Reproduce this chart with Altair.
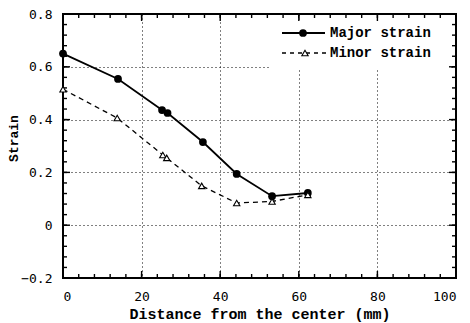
import altair as alt
import pandas as pd

# ---- data ----
distance_major = [0, 14, 25.2, 26.6, 35.6, 44.2, 53.2, 62.3]
major_strain = [0.65, 0.554, 0.436, 0.425, 0.315, 0.194, 0.11, 0.122]
distance_minor = [0, 13.8, 25.4, 26.4, 35.3, 44.2, 53.2, 62.3]
minor_strain = [0.515, 0.406, 0.266, 0.255, 0.149, 0.084, 0.09, 0.115]
series_names = ["Major strain", "Minor strain"]

x_major_ticks = [0, 20, 40, 60, 80, 100]
x_minor_ticks = list(range(0, 101, 4))
y_major_ticks = [-0.2, 0, 0.2, 0.4, 0.6, 0.8]
y_minor_ticks = [round(-0.2 + 0.04 * i, 2) for i in range(26)]

x_title = "Distance from the center (mm)"
y_title = "Strain"

W, H = 393, 264
X_MIN, X_MAX = 0, 100
Y_MIN, Y_MAX = -0.2, 0.8
TITLE_FONT = "Liberation Mono"
LABEL_FONT = "DejaVu Sans Mono"

df_major = pd.DataFrame({"d": distance_major, "s": major_strain})
df_minor = pd.DataFrame({"d": distance_minor, "s": minor_strain})

xs = alt.Scale(domain=[X_MIN, X_MAX], nice=False, zero=False)
ys = alt.Scale(domain=[Y_MIN, Y_MAX], nice=False, zero=False)

x_axis = alt.Axis(
    values=x_major_ticks, ticks=False, domain=False, grid=True,
    gridColor="black", gridDash=[1, 3], gridWidth=1,
    labelFont=LABEL_FONT, labelFontSize=13, labelColor="black", labelPadding=12,
    labelExpr="format(datum.value, 'd')",
    title=x_title, titleFont=TITLE_FONT, titleFontWeight="bold", titleFontSize=15,
    titleColor="black", titleY=35, titleBaseline="middle",
)
y_axis = alt.Axis(
    values=y_major_ticks, ticks=False, domain=False, grid=True,
    gridColor="black", gridDash=[1, 3], gridWidth=1,
    labelFont=LABEL_FONT, labelFontSize=13, labelColor="black", labelPadding=11,
    labelExpr="datum.value == 0 ? '0' : format(datum.value, '.1f')",
    title=y_title, titleFont=TITLE_FONT, titleFontWeight="bold", titleFontSize=13,
    titleColor="black", titleX=-50, titleY=124, titleAngle=270,
    titleAlign="center", titleBaseline="middle",
)


def X(field):
    return alt.X(field, scale=xs, axis=x_axis)


def Y(field):
    return alt.Y(field, scale=ys, axis=y_axis)


major_line = alt.Chart(df_major).mark_line(color="black", strokeWidth=1.8).encode(
    x=X("d:Q"), y=Y("s:Q"))
major_pts = alt.Chart(df_major).mark_point(
    shape="circle", filled=True, color="black", size=60, opacity=1
).encode(x=X("d:Q"), y=Y("s:Q"))
minor_line = alt.Chart(df_minor).mark_line(
    color="black", strokeWidth=1.3, strokeDash=[5, 4]
).encode(x=X("d:Q"), y=Y("s:Q"))
minor_pts = alt.Chart(df_minor).mark_point(
    shape="triangle-up", filled=False, fill="white", fillOpacity=1,
    stroke="black", strokeWidth=1.1, size=40, opacity=1
).encode(x=X("d:Q"), y=Y("s:Q"))

# ---- inside tick marks: short rules from each frame edge inward ----
px_x = (X_MAX - X_MIN) / W   # data units per pixel
px_y = (Y_MAX - Y_MIN) / H


def tick_rows(values, length):
    rows = []
    for v in values:
        rows.append({"d": v, "s": Y_MIN, "d2": v, "s2": Y_MIN + length * px_y})
        rows.append({"d": v, "s": Y_MAX, "d2": v, "s2": Y_MAX - length * px_y})
    return rows


def ytick_rows(values, length):
    rows = []
    for v in values:
        rows.append({"d": X_MIN, "s": v, "d2": X_MIN + length * px_x, "s2": v})
        rows.append({"d": X_MAX, "s": v, "d2": X_MAX - length * px_x, "s2": v})
    return rows


tick_df = pd.DataFrame(
    tick_rows(x_minor_ticks, 4) + tick_rows(x_major_ticks, 7)
    + ytick_rows(y_minor_ticks, 4) + ytick_rows(y_major_ticks, 7)
)
ticks = alt.Chart(tick_df).mark_rule(color="black", strokeWidth=1.4, opacity=1).encode(
    x=X("d:Q"), y=Y("s:Q"), x2="d2:Q", y2="s2:Q"
)

# ---- manual legend ----
one = pd.DataFrame({"k": [0]})
leg_bg = alt.Chart(one).mark_rect(fill="white").encode(
    x=alt.value(207), x2=alt.value(386), y=alt.value(7), y2=alt.value(55)
)
leg_major_line = alt.Chart(one).mark_rule(color="black", strokeWidth=1.8).encode(
    x=alt.value(219), x2=alt.value(262), y=alt.value(19)
)
leg_major_pt = alt.Chart(one).mark_point(
    shape="circle", filled=True, color="black", size=60, opacity=1
).encode(x=alt.value(240), y=alt.value(19))
leg_minor_line = alt.Chart(one).mark_rule(
    color="black", strokeWidth=1.3, strokeDash=[4, 4]
).encode(x=alt.value(219), x2=alt.value(263), y=alt.value(39))
leg_minor_pt = alt.Chart(one).mark_point(
    shape="triangle-up", filled=False, fill="white", fillOpacity=1,
    stroke="black", strokeWidth=1.1, size=40, opacity=1
).encode(x=alt.value(242), y=alt.value(39))
leg_text_major = alt.Chart(one).mark_text(
    align="left", baseline="middle", font=TITLE_FONT, fontWeight="bold",
    fontSize=14, color="black", text=series_names[0]
).encode(x=alt.value(267), y=alt.value(19))
leg_text_minor = alt.Chart(one).mark_text(
    align="left", baseline="middle", font=TITLE_FONT, fontWeight="bold",
    fontSize=14, color="black", text=series_names[1]
).encode(x=alt.value(267), y=alt.value(39))

chart = alt.layer(
    major_line, minor_line, leg_bg, ticks,
    leg_major_line, leg_minor_line,
    major_pts, minor_pts, leg_major_pt, leg_minor_pt,
    leg_text_major, leg_text_minor
).properties(
    width=W, height=H,
    autosize=alt.AutoSizeParams(type="none"),
    padding={"left": 55, "top": 6, "right": 6, "bottom": 45},
    background="white",
).configure_view(stroke="black", strokeWidth=2)

chart.save("out.html", embed_options={"renderer": "svg", "actions": False})
